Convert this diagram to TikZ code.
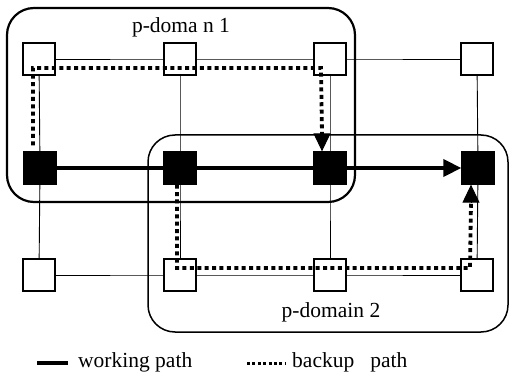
\documentclass[tikz,border=0pt]{standalone}
\usepackage{fontspec}
\setmainfont{Liberation Serif}
\usetikzlibrary{arrows.meta,calc}
\begin{document}
\begin{tikzpicture}[x=1pt,y=-1pt,
  wsq/.style={draw=black,line width=1.8pt,fill=white,minimum size=31.5pt,inner sep=0pt},
  bsq/.style={draw=black,line width=1.8pt,fill=black,minimum size=31.5pt,inner sep=0pt},
  gline/.style={line width=0.9pt},
  work/.style={line width=3.6pt},
  backup/.style={line width=3.8pt,dash pattern=on 4pt off 3.4pt},
  legbackup/.style={line width=3pt,dash pattern=on 3pt off 2.4pt},
  arrtip/.style={-{Triangle[width=17pt,length=18pt]}},
  pdom/.style={rounded corners=27pt},
  lbl/.style={font=\fontsize{21.5}{25}\selectfont,inner sep=0pt}]
\useasboundingbox (0,0) rectangle (511,374);
% domains
\draw[pdom,line width=2.2pt] (7,8) rectangle (355,202);
\draw[pdom,line width=1.5pt] (148,135) rectangle (508,332);
\node[lbl] (d1) at (181,27) {p-doma n 1};
\node[lbl] (d2) at (331,312) {p-domain 2};
% node positions
\coordinate (a1) at (39,59);
\coordinate (a2) at (180,59);
\coordinate (a3) at (330,59);
\coordinate (a4) at (477,59);
\coordinate (b1) at (40,168);
\coordinate (b2) at (180,168);
\coordinate (b3) at (330,168);
\coordinate (b4) at (478,168);
\coordinate (c1) at (39,275);
\coordinate (c2) at (180,275);
\coordinate (c3) at (330,275);
\coordinate (c4) at (477,275);
% grid lines
\draw[gline] (a1) -- (a2) -- (a3) -- (a4);
\draw[gline] (c1) -- (c2) -- (c3) -- (c4);
\draw[gline] (a1) -- (b1) -- (c1);
\draw[gline] (a2) -- (b2) -- (c2);
\draw[gline] (a3) -- (b3) -- (c3);
\draw[gline] (a4) -- (b4) -- (c4);
% nodes
\node[wsq] (w1) at (a1) {};
\node[wsq] (w2) at (a2) {};
\node[wsq] (w3) at (a3) {};
\node[wsq] (w4) at (a4) {};
\node[wsq] (v1) at (c1) {};
\node[wsq] (v2) at (c2) {};
\node[wsq] (v3) at (c3) {};
\node[wsq] (v4) at (c4) {};
\node[bsq] (n1) at (b1) {};
\node[bsq] (n2) at (b2) {};
\node[bsq] (n3) at (b3) {};
\node[bsq] (n4) at (b4) {};
% working path
\draw[work] (n1) -- (n2) -- (n3);
\draw[work,arrtip] (n3) -- (n4);
% backup paths
\coordinate (p1) at (33,68);
\coordinate (p2) at (321,68);
\coordinate (s1) at ($(n1.north)+(-7,-6)$);
\coordinate (e1) at ($(n3.north)+(-8,0)$);
\draw[backup] (s1) -- (p1) -- (p2) -- ($(e1)+(0,-17)$);
\draw[arrtip,line width=1pt] ($(e1)+(0,-18)$) -- (e1);
\coordinate (s2) at ($(n2.south)+(-3,0)$);
\coordinate (q1) at (177,268);
\coordinate (q2) at (470,268);
\coordinate (e2) at ($(n4.south)+(-7,0)$);
\draw[backup] (s2) -- (q1) -- (q2) -- ($(e2)+(0,17)$);
\draw[arrtip,line width=1pt] ($(e2)+(0,18)$) -- (e2);
% legend
\coordinate (lw1) at (37,363);
\coordinate (lw2) at (68,363);
\draw[work] (lw1) -- (lw2);
\node[lbl,anchor=west] (lwt) at (78,362) {working path};
\coordinate (lb1) at (247,363);
\coordinate (lb2) at (285,363);
\draw[legbackup] (lb1) -- (lb2);
\node[lbl,anchor=west] (lbt) at (292,362) {backup\hspace{0.5em} path};
\end{tikzpicture}
\end{document}
